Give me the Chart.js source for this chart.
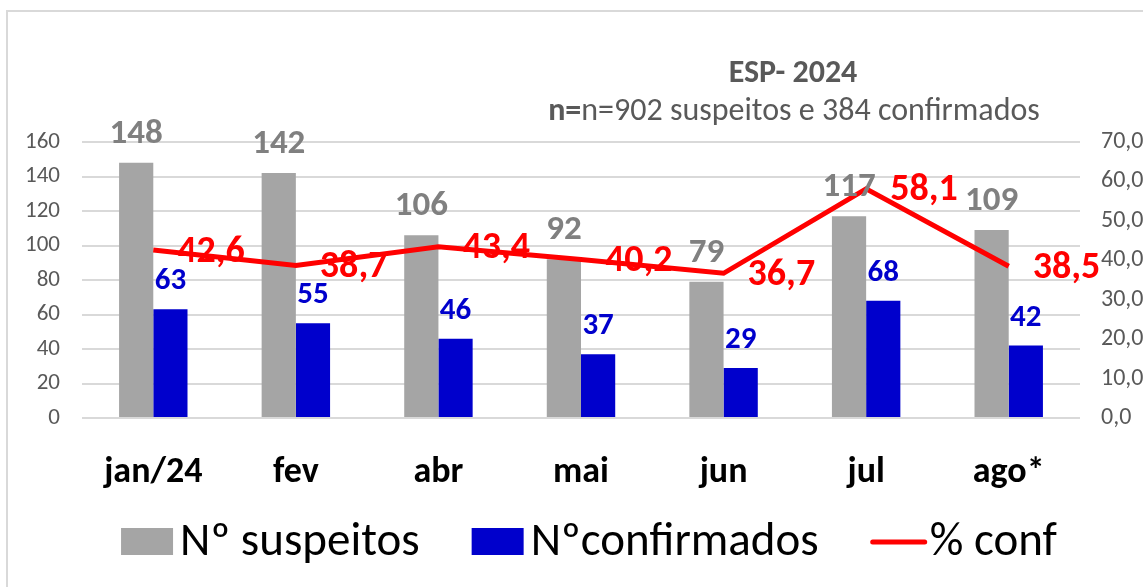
<!DOCTYPE html>
<html>
<head>
<meta charset="utf-8">
<script src="https://cdn.jsdelivr.net/npm/chart.js@4.4.1/dist/chart.umd.min.js"></script>
<style>
  html, body { margin: 0; padding: 0; background: #fff; }
  #wrap { width: 1143px; height: 587px; }
</style>
</head>
<body>
<div id="wrap"><canvas id="espChart" width="1143" height="587"></canvas></div>
<script>
const categorias = ["jan/24", "fev", "abr", "mai", "jun", "jul", "ago*"];
const suspeitos = [148, 142, 106, 92, 79, 117, 109];
const confirmados = [63, 55, 46, 37, 29, 68, 42];
const pctConf = [42.6, 38.7, 43.4, 40.2, 36.7, 58.1, 38.5];

const tituloTexto = "ESP- 2024";
const subtituloNegrito = "n=";
const subtituloTexto = "n=902 suspeitos e 384 confirmados";

const FONT = "Carlito, Calibri, 'Liberation Sans', Arial, sans-serif";
const fmt = (v) => v.toFixed(1).replace(".", ",");

// labels over bars / beside line points, titles, frame and legend
const decorPlugin = {
  id: "decor",
  beforeDraw(chart) {
    const ctx = chart.ctx;
    ctx.save();
    ctx.fillStyle = "#fff";
    ctx.fillRect(0, 0, chart.width, chart.height);
    ctx.strokeStyle = "#d9d9d9";
    ctx.lineWidth = 2;
    ctx.strokeRect(7, 11, chart.width + 20, chart.height + 20);
    ctx.restore();
  },
  afterDatasetsDraw(chart) {
    const ctx = chart.ctx;
    ctx.save();
    chart.data.datasets.forEach((ds, i) => {
      const meta = chart.getDatasetMeta(i);
      meta.data.forEach((el, j) => {
        const v = ds.data[j];
        if (ds.type === "line") {
          ctx.font = "bold 38px " + FONT;
          ctx.fillStyle = "#ff0000";
          ctx.textAlign = "left";
          ctx.textBaseline = "middle";
          ctx.fillText(fmt(v), el.x + 24, el.y + 2);
        } else {
          ctx.font = "bold " + ds.labelSize + "px " + FONT;
          ctx.fillStyle = ds.labelColor;
          ctx.textAlign = "center";
          ctx.textBaseline = "alphabetic";
          ctx.fillText(String(v), el.x, el.y - 20);
        }
      });
    });

    // title + subtitle
    ctx.fillStyle = "#595959";
    ctx.textAlign = "center";
    ctx.textBaseline = "middle";
    ctx.font = "bold 32px " + FONT;
    ctx.fillText(tituloTexto, 793, 74);
    ctx.font = "bold 32px " + FONT;
    const w1 = ctx.measureText(subtituloNegrito).width;
    ctx.font = "32px " + FONT;
    const w2 = ctx.measureText(subtituloTexto).width;
    const x0 = 794 - (w1 + w2) / 2;
    ctx.textAlign = "left";
    ctx.font = "bold 32px " + FONT;
    ctx.fillText(subtituloNegrito, x0, 112);
    ctx.font = "32px " + FONT;
    ctx.fillText(subtituloTexto, x0 + w1, 112);

    // legend
    ctx.font = "47px " + FONT;
    const items = chart.data.datasets.map((ds) => ({
      text: ds.label,
      color: ds.type === "line" ? ds.borderColor : ds.backgroundColor,
      line: ds.type === "line",
      w: ctx.measureText(ds.label).width
    }));
    const keyW = 52, gapKey = 7, gapItem = 52;
    const total = items.reduce((s, it) => s + keyW + gapKey + it.w, 0) + gapItem * (items.length - 1);
    let x = 589 - total / 2;
    const base = 555;
    items.forEach((it) => {
      if (it.line) {
        ctx.strokeStyle = it.color;
        ctx.lineWidth = 5;
        ctx.lineCap = "round";
        ctx.beginPath();
        ctx.moveTo(x + 2, 542);
        ctx.lineTo(x + keyW + 2, 542);
        ctx.stroke();
      } else {
        ctx.fillStyle = it.color;
        ctx.fillRect(x, 528, keyW, 27);
      }
      ctx.fillStyle = "#000";
      ctx.textBaseline = "alphabetic";
      ctx.fillText(it.text, x + keyW + gapKey, base);
      x += keyW + gapKey + it.w + gapItem;
    });
    ctx.restore();
  }
};

new Chart(document.getElementById("espChart"), {
  data: {
    labels: categorias,
    datasets: [
      {
        type: "bar",
        label: "Nº suspeitos",
        data: suspeitos,
        backgroundColor: "#a5a5a5",
        yAxisID: "y",
        order: 1,
        labelColor: "#808080",
        labelSize: 35,
        categoryPercentage: 0.48,
        barPercentage: 1.0
      },
      {
        type: "bar",
        label: "Nºconfirmados",
        data: confirmados,
        backgroundColor: "#0000cc",
        yAxisID: "y",
        order: 2,
        labelColor: "#0000cc",
        labelSize: 31,
        categoryPercentage: 0.48,
        barPercentage: 1.0
      },
      {
        type: "line",
        label: "% conf",
        data: pctConf,
        borderColor: "#ff0000",
        backgroundColor: "#ff0000",
        borderWidth: 5,
        pointRadius: 0,
        tension: 0,
        yAxisID: "y1",
        order: 0
      }
    ]
  },
  options: {
    responsive: false,
    animation: false,
    layout: { padding: { top: 142, left: 0, right: 0, bottom: 0 } },
    plugins: {
      legend: { display: false },
      title: { display: false },
      tooltip: { enabled: false }
    },
    scales: {
      x: {
        grid: { display: false },
        border: { display: false },
        ticks: {
          color: "#000",
          font: { family: FONT, size: 36, weight: "bold" },
          padding: 25
        },
        afterFit: (s) => { s.height = 169; }
      },
      y: {
        position: "left",
        min: 0,
        max: 160,
        ticks: {
          stepSize: 20,
          color: "#595959",
          font: { family: FONT, size: 23 },
          padding: 22
        },
        grid: { color: "#d9d9d9", lineWidth: 2, drawTicks: false },
        border: { display: false },
        afterFit: (s) => { s.width = 82; }
      },
      y1: {
        position: "right",
        min: 0,
        max: 70,
        ticks: {
          stepSize: 10,
          color: "#595959",
          font: { family: FONT, size: 24 },
          padding: 21,
          callback: (v) => fmt(v)
        },
        grid: { display: false, drawTicks: false },
        border: { display: false },
        afterFit: (s) => { s.width = 63; }
      }
    }
  },
  plugins: [decorPlugin]
});
</script>
</body>
</html>
